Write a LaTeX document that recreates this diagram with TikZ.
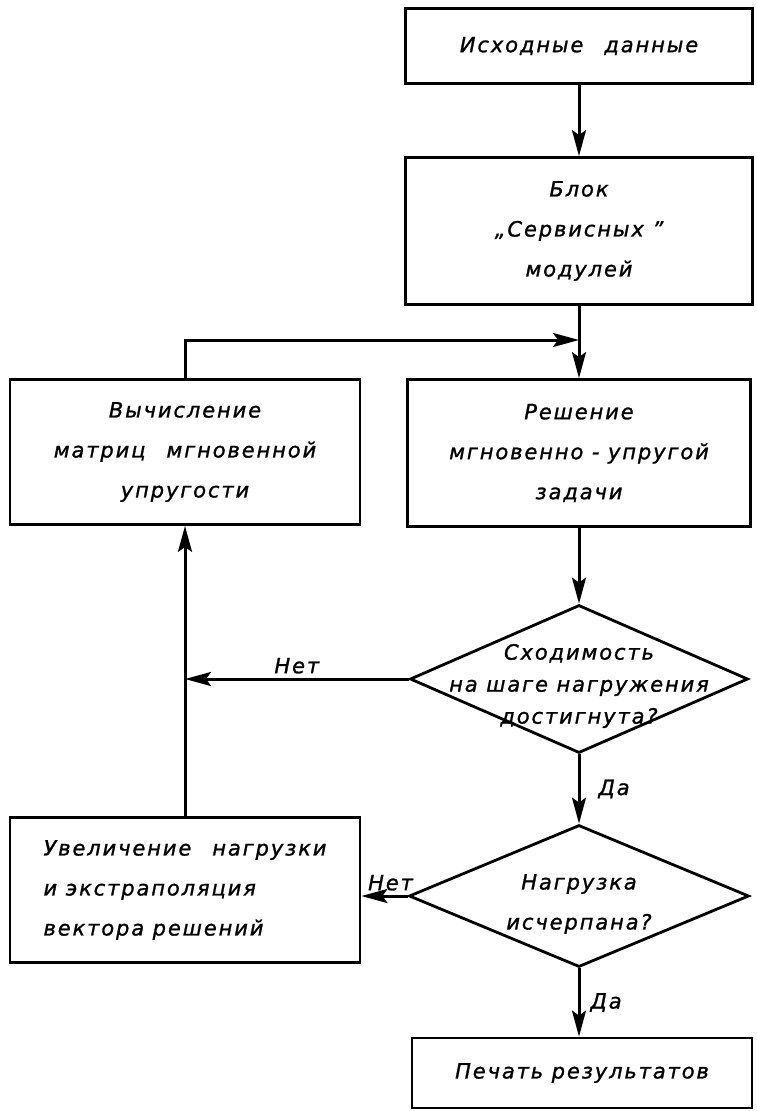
\documentclass[tikz,border=0pt]{standalone}
\usepackage{fontspec}
\newfontfamily\flowfamily[LetterSpace=9, FakeBold=1.2]{DejaVu Sans}
\newcommand{\boxtext}{\flowfamily\itshape\fontsize{21}{40}\selectfont}
\newcommand{\asktext}{\flowfamily\itshape\fontsize{21}{32}\selectfont}
\usetikzlibrary{arrows.meta, positioning, shapes.geometric}

\begin{document}
\begin{tikzpicture}[
  x=1pt, y=-1pt, line width=2.8pt,
  block/.style 2 args={draw, minimum width=#1, minimum height=#2,
    inner sep=0pt, align=center, font=\boxtext},
  decision/.style 2 args={draw, diamond, minimum width=#1,
    minimum height=#2, inner sep=0pt},
  flow/.style={line width=3pt,
    -{Stealth[length=26pt, width=14pt, inset=5pt]}},
  answer/.style={font=\boxtext, inner sep=4pt}
]
  \useasboundingbox (0,0) rectangle (756,1111);

  % --- main column ---
  \node[block={347pt}{75pt}] (start) at (579,46) {Исходные\quad данные};
  \node[block={347pt}{147pt}] (serv) at (579,231)
    {Блок\\„Сервисных ”\\модулей};
  \node[block={343pt}{147pt}] (solve) at (579,453)
    {Решение\\мгновенно - упругой\\задачи};

  % --- decisions ---
  \node[decision={338pt}{148pt}] (conv) at (579,679) {};
  \node[align=center, font=\asktext] (convtext) at (579,686)
    {Сходимость\\на шаге нагружения\\достигнута?};
  \node[decision={340pt}{142pt}] (load) at (579,896) {};
  \node[align=center, font=\boxtext] (loadtext) at (579,904)
    {Нагрузка\\исчерпана?};

  \node[block={340pt}{70pt}] (print) at (582,1073) {Печать результатов};

  % --- left column ---
  \node[block={350pt}{145pt}] (calc) at (185,452)
    {Вычисление\\матриц\quad мгновенной\\упругости};
  \node[block={350pt}{145pt}, align=left] (incr) at (185,890)
    {Увеличение\quad нагрузки\\и экстраполяция\\вектора решений};

  \coordinate (join) at (579,340);
  \coordinate (merge) at (calc.south |- conv.west);

  % Connections
  \draw[flow] (start) -- (serv);
  \draw[flow] (serv) -- (solve);
  \draw[flow] (calc.north) |- (join);
  \draw[flow] (solve) -- (conv);
  \draw[flow] (conv.west) -- (merge)
    node[midway, above, answer] {Нет};
  \draw[flow] (incr) -- (calc);
  \draw[flow] (conv.south) -- (load.north)
    node[midway, right, answer, xshift=14pt] {Да};
  \draw[flow] (load.west) -- (load.west -| incr.east)
    node[midway, above, answer, xshift=6pt] {Нет};
  \draw[flow] (load.south) -- (load.south |- print.north)
    node[midway, right, answer, xshift=6pt] {Да};
\end{tikzpicture}
\end{document}
